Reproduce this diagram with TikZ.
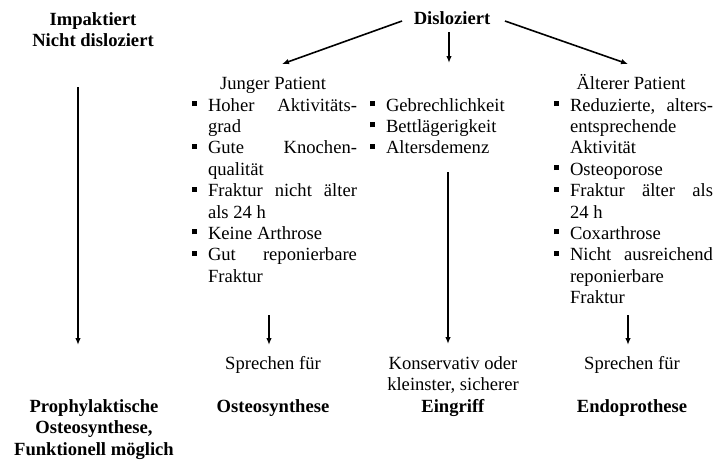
\documentclass[tikz,border=0pt]{standalone}
\usepackage{fontspec}
\setmainfont{Liberation Serif}
\usetikzlibrary{arrows.meta}
\newcommand{\bl}{\makebox[16pt][l]{\rule[5pt]{5pt}{5pt}}}
\newcommand{\jl}[2]{\makebox[#1][s]{#2}}
\newcommand{\ind}{\hspace*{16pt}}
\tikzset{
  txt/.style={inner sep=0pt, outer sep=0pt, font=\fontsize{18.6}{21.4}\selectfont},
  arr/.style={line width=1.6pt, -{Latex[length=7pt,width=5.5pt]}}
}
\begin{document}
\begin{tikzpicture}[x=1pt,y=-1pt]
\useasboundingbox (0,0) rectangle (715,459);
% top labels
\node[txt, anchor=base] (imp) at (93,25) {\begin{minipage}[t]{200pt}\centering\fontsize{18.6}{21.4}\selectfont\textbf{Impaktiert}\\\textbf{Nicht disloziert}\end{minipage}};
\node[txt, anchor=base] (dis) at (452,24) {\textbf{Disloziert}};
% headers
\node[txt, anchor=base] (jung) at (273,89) {Junger Patient};
\node[txt, anchor=base] (alt) at (631,89) {Älterer Patient};
% column 1
\node[txt, anchor=base west] (c1) at (192,111) {\begin{minipage}[t]{170pt}\fontsize{18.6}{21.4}\selectfont
\bl\jl{149pt}{Hoher Aktivitäts-}\\
\ind grad\\
\bl\jl{149pt}{Gute Knochen-}\\
\ind qualität\\
\bl\jl{149pt}{Fraktur nicht älter}\\
\ind als 24 h\\
\bl Keine Arthrose\\
\bl\jl{149pt}{Gut reponierbare}\\
\ind Fraktur\end{minipage}};
% column 2
\node[txt, anchor=base west] (c2) at (370,111) {\begin{minipage}[t]{170pt}\fontsize{18.6}{21.4}\selectfont
\bl Gebrechlichkeit\\
\bl Bettlägerigkeit\\
\bl Altersdemenz\end{minipage}};
% column 3
\node[txt, anchor=base west] (c3) at (554,111) {\begin{minipage}[t]{161pt}\fontsize{18.6}{21.4}\selectfont
\bl\jl{143pt}{Reduzierte, alters-}\\
\ind entsprechende\\
\ind Aktivität\\
\bl Osteoporose\\
\bl\jl{143pt}{Fraktur älter als}\\
\ind 24 h\\
\bl Coxarthrose\\
\bl\jl{143pt}{Nicht ausreichend}\\
\ind reponierbare\\
\ind Fraktur\end{minipage}};
% bottom
\node[txt, anchor=base] (proph) at (94,412) {\begin{minipage}[t]{220pt}\centering\fontsize{18.6}{21.5}\selectfont\textbf{Prophylaktische}\\\textbf{Osteosynthese,}\\\textbf{Funktionell möglich}\end{minipage}};
\node[txt, anchor=base] (spr1) at (273,369) {Sprechen für};
\node[txt, anchor=base] (ost) at (273,412) {\textbf{Osteosynthese}};
\node[txt, anchor=base] (kons) at (453,369) {\begin{minipage}[t]{200pt}\centering\fontsize{18.6}{21.6}\selectfont Konservativ oder\\kleinster, sicherer\\\textbf{Eingriff}\end{minipage}};
\node[txt, anchor=base] (spr2) at (632,369) {Sprechen für};
\node[txt, anchor=base] (endo) at (632,412) {\textbf{Endoprothese}};
% connector end points
\coordinate (dl) at (402,21);
\coordinate (dm) at (449,32);
\coordinate (dr) at (505,21);
\coordinate (tl) at (282,64);
\coordinate (tm) at (449,63);
\coordinate (tr) at (628,64);
\coordinate (l0) at (78,87);
\coordinate (l1) at (78,345);
\coordinate (a0) at (269,315);
\coordinate (a1) at (269,345);
\coordinate (m0) at (448,172);
\coordinate (m1) at (448,344);
\coordinate (r0) at (628,315);
\coordinate (r1) at (628,345);
\draw[arr] (dl) -- (tl);
\draw[arr] (dm) -- (tm);
\draw[arr] (dr) -- (tr);
\draw[arr] (l0) -- (l1);
\draw[arr] (a0) -- (a1);
\draw[arr] (m0) -- (m1);
\draw[arr] (r0) -- (r1);
\end{tikzpicture}
\end{document}
